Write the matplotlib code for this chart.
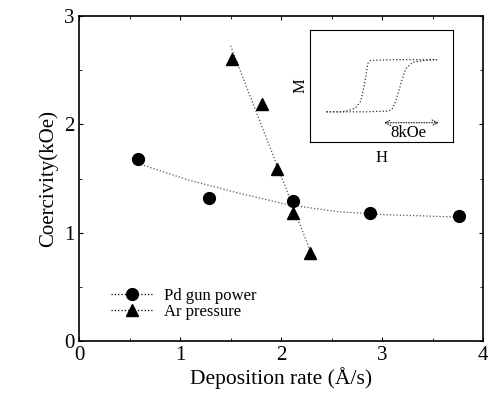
import numpy as np
from matplotlib import pyplot as plt

plt.rcParams['font.family'] = ['Liberation Serif', 'DejaVu Serif']

# Pd gun power series
pd_rate = [0.58, 1.29, 2.12, 2.88, 3.76]
pd_hc = [1.68, 1.32, 1.29, 1.18, 1.15]
# guide curve through the Pd series
pd_fit_rate = [0.55, 1.07, 1.56, 2.06, 2.55, 3.05, 3.40, 3.72]
pd_fit_hc = [1.65, 1.49, 1.37, 1.26, 1.195, 1.165, 1.155, 1.145]
# Ar pressure series
ar_rate = [1.51, 1.81, 1.96, 2.12, 2.29]
ar_hc = [2.60, 2.19, 1.59, 1.18, 0.81]

# inset hysteresis loop (schematic), H in kOe, M normalised
h_down = [7.8, 2.0, -1.5, -1.9, -2.4, -2.9, -3.6, -4.6, -5.5, -7.7]
m_down = [1.0, 1.0, 0.97, 0.85, 0.0, -0.6, -0.85, -0.95, -1.0, -1.0]
h_up = [-7.7, -2.0, 1.0, 1.5, 2.0, 2.65, 3.4, 4.4, 6.0, 7.8]
m_up = [-1.0, -1.0, -0.97, -0.9, -0.6, 0.0, 0.65, 0.9, 0.97, 1.0]

fig = plt.figure(figsize=(4.88, 3.95), dpi=100)
ax = fig.add_axes([0.162, 0.137, 0.828, 0.822])

line_col = '#555555'

# guide lines
ax.plot(pd_fit_rate, pd_fit_hc, ls=':', lw=0.9, color=line_col)
c2 = np.polyfit(ar_rate, ar_hc, 1)
xs2 = np.linspace(1.5, 2.3, 20)
ax.plot(xs2, np.polyval(c2, xs2), ls=':', lw=0.9, color=line_col)

ax.plot(pd_rate, pd_hc, 'o', color='black', ms=8.5)
ax.plot(ar_rate, ar_hc, '^', color='black', ms=8.5)

# legend entries
ax.plot([], [], 'o', color='black', ms=8.5, ls=':', lw=0.9,
        label='Pd gun power')
ax.plot([], [], '^', color='black', ms=8.5, ls=':', lw=0.9,
        label='Ar pressure')
ax.legend(loc='lower left', bbox_to_anchor=(0.058, 0.04), frameon=False,
          fontsize=12, handlelength=2.6, handletextpad=0.6,
          labelspacing=0.0, borderpad=0)

ax.set_xlim(0, 4)
ax.set_ylim(0, 3)
ax.set_xticks([0, 1, 2, 3, 4])
ax.set_yticks([0, 1, 2, 3])
ax.set_xticks([0.5, 1.5, 2.5, 3.5], minor=True)
ax.set_yticks([0.5, 1.5, 2.5], minor=True)
ax.tick_params(which='both', direction='in', top=True, right=True,
               labelsize=15, length=3)
ax.tick_params(which='minor', length=2)
ax.set_xlabel('Deposition rate (Å/s)', fontsize=15.5, labelpad=2)
ax.set_ylabel('Coercivity(kOe)', fontsize=15, labelpad=4)
for s in ax.spines.values():
    s.set_linewidth(1.2)

# inset
ins = fig.add_axes([0.635, 0.641, 0.293, 0.284])
ins.plot(h_down, m_down, ls=':', lw=0.9, color='#333333')
ins.plot(h_up, m_up, ls=':', lw=0.9, color='#333333')
ins.set_xlim(-10, 10)
ins.set_ylim(-2.15, 2.15)
ins.set_xticks([])
ins.set_yticks([])
ins.annotate('', xy=(8.4, -1.42), xytext=(0, -1.42),
             arrowprops=dict(arrowstyle='<->', lw=0.7, ls=':', color='black'))
ins.text(3.8, -1.82, '8kOe', ha='center', va='center', fontsize=12)
ins.set_xlabel('H', fontsize=12, labelpad=6)
ins.set_ylabel('M', fontsize=12, labelpad=1)

fig.savefig('out.png', dpi=100)
